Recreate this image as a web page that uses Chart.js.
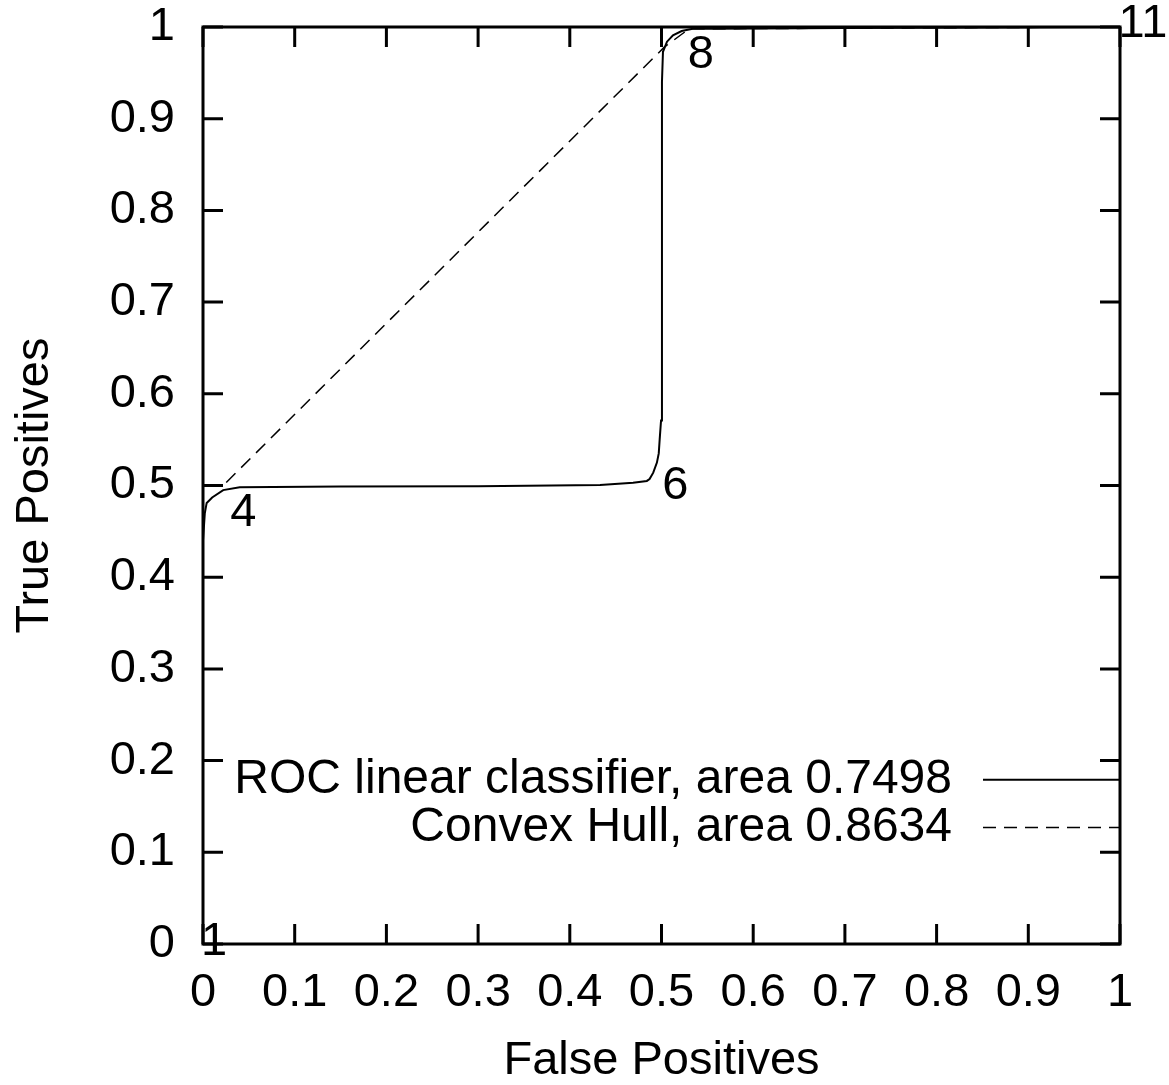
<!DOCTYPE html>
<html>
<head>
<meta charset="utf-8">
<script src="https://cdn.jsdelivr.net/npm/chart.js@4.4.1/dist/chart.umd.min.js"></script>
<style>
  html, body { margin: 0; padding: 0; background: #fff; }
  canvas { display: block; }
</style>
</head>
<body>
<canvas id="roc" width="1169" height="1085"></canvas>
<script>
// ROC curve of the linear classifier (false positive rate, true positive rate)
const rocX = [0, 0, 0, 0.002, 0.004, 0.010, 0.022, 0.040, 0.150, 0.300, 0.433, 0.469, 0.484, 0.487, 0.491, 0.495, 0.497, 0.498, 0.4995, 0.5005, 0.5005, 0.5005, 0.5016, 0.506, 0.5125, 0.522, 0.534, 0.556, 0.700, 1];
const rocY = [0, 0.300, 0.440, 0.470, 0.481, 0.487, 0.495, 0.498, 0.4988, 0.4992, 0.5005, 0.503, 0.505, 0.507, 0.514, 0.525, 0.535, 0.550, 0.571, 0.600, 0.893, 0.940, 0.973, 0.984, 0.991, 0.9956, 0.998, 0.998, 0.999, 1];

// convex hull of the ROC curve
const hullX = [0, 0, 0.022, 0.503, 0.530, 1];
const hullY = [0, 0.5, 0.5, 0.978, 0.998, 1];

// threshold numbers written next to the curve
const pointLabels = ['1', '4', '6', '8', '11'];
const pointLabelX = [0.012, 0.044, 0.515, 0.543, 1.025];
const pointLabelY = [0.002, 0.470, 0.4995, 0.969, 1.003];

const seriesNames = ['ROC linear classifier, area 0.7498', 'Convex Hull, area 0.8634'];
const legendY = [0.179, 0.127];

const xTitle = 'False Positives';
const yTitle = 'True Positives';

const FONT = 'Liberation Sans';
const hullDash = [13, 8];

function toPoints(xs, ys) {
  return xs.map((x, i) => ({ x: x, y: ys[i] }));
}

// gnuplot style: frame, inward ticks on all four sides, in-plot key and labels
const gnuplotFrame = {
  id: 'gnuplotFrame',
  afterDraw(chart) {
    const ctx = chart.ctx;
    const a = chart.chartArea;
    const xs = chart.scales.x;
    const ys = chart.scales.y;
    ctx.save();
    ctx.strokeStyle = '#000';
    ctx.lineWidth = 3;
    ctx.strokeRect(a.left, a.top, a.right - a.left, a.bottom - a.top);

    const tl = 20;
    ctx.beginPath();
    xs.ticks.forEach(t => {
      const px = xs.getPixelForValue(t.value);
      ctx.moveTo(px, a.bottom); ctx.lineTo(px, a.bottom - tl);
      ctx.moveTo(px, a.top); ctx.lineTo(px, a.top + tl);
    });
    ys.ticks.forEach(t => {
      const py = ys.getPixelForValue(t.value);
      ctx.moveTo(a.left, py); ctx.lineTo(a.left + tl, py);
      ctx.moveTo(a.right, py); ctx.lineTo(a.right - tl, py);
    });
    ctx.stroke();

    // key
    ctx.font = '48px "' + FONT + '"';
    ctx.fillStyle = '#000';
    ctx.textAlign = 'right';
    ctx.textBaseline = 'middle';
    seriesNames.forEach((name, i) => {
      const py = ys.getPixelForValue(legendY[i]);
      ctx.fillText(name, a.right - 168, py);
      const ds = chart.data.datasets[i];
      ctx.beginPath();
      ctx.lineWidth = ds.borderWidth;
      ctx.setLineDash(ds.borderDash || []);
      ctx.moveTo(a.right - 137, py);
      ctx.lineTo(a.right, py);
      ctx.stroke();
    });
    ctx.setLineDash([]);

    // threshold labels
    ctx.font = '47px "' + FONT + '"';
    ctx.textAlign = 'center';
    pointLabels.forEach((txt, i) => {
      ctx.fillText(txt, xs.getPixelForValue(pointLabelX[i]), ys.getPixelForValue(pointLabelY[i]));
    });
    ctx.restore();
  }
};

Chart.defaults.font.family = FONT;
Chart.defaults.font.size = 47;
Chart.defaults.color = '#000';

const fmt = v => String(Number(v.toFixed(1)));

new Chart(document.getElementById('roc').getContext('2d'), {
  type: 'scatter',
  data: {
    datasets: [
      {
        label: seriesNames[0],
        data: toPoints(rocX, rocY),
        showLine: true,
        borderColor: '#000',
        borderWidth: 2,
        pointRadius: 0,
        tension: 0
      },
      {
        label: seriesNames[1],
        data: toPoints(hullX, hullY),
        showLine: true,
        borderColor: '#000',
        borderWidth: 1.5,
        borderDash: hullDash,
        pointRadius: 0,
        tension: 0
      }
    ]
  },
  options: {
    responsive: false,
    animation: false,
    layout: { padding: { top: 27, right: 49, left: 0, bottom: 0 } },
    plugins: {
      legend: { display: false },
      tooltip: { enabled: false }
    },
    scales: {
      x: {
        type: 'linear',
        min: 0,
        max: 1,
        grid: { display: false, drawTicks: false },
        border: { display: false },
        ticks: { stepSize: 0.1, padding: 21, maxRotation: 0, autoSkip: false, callback: fmt },
        title: { display: true, text: xTitle, font: { size: 47, lineHeight: 1 }, padding: 0 },
        afterFit(axis) { axis.height = 141; axis.paddingLeft = 0; axis.paddingRight = 0; }
      },
      y: {
        type: 'linear',
        min: 0,
        max: 1,
        grid: { display: false, drawTicks: false },
        border: { display: false },
        ticks: { stepSize: 0.1, padding: 28, autoSkip: false, callback: fmt },
        title: { display: true, text: yTitle, font: { size: 47, lineHeight: 1 }, padding: { top: 12, bottom: 0 } },
        afterFit(axis) { axis.width = 203; axis.paddingTop = 0; axis.paddingBottom = 0; }
      }
    }
  },
  plugins: [gnuplotFrame]
});
</script>
</body>
</html>
